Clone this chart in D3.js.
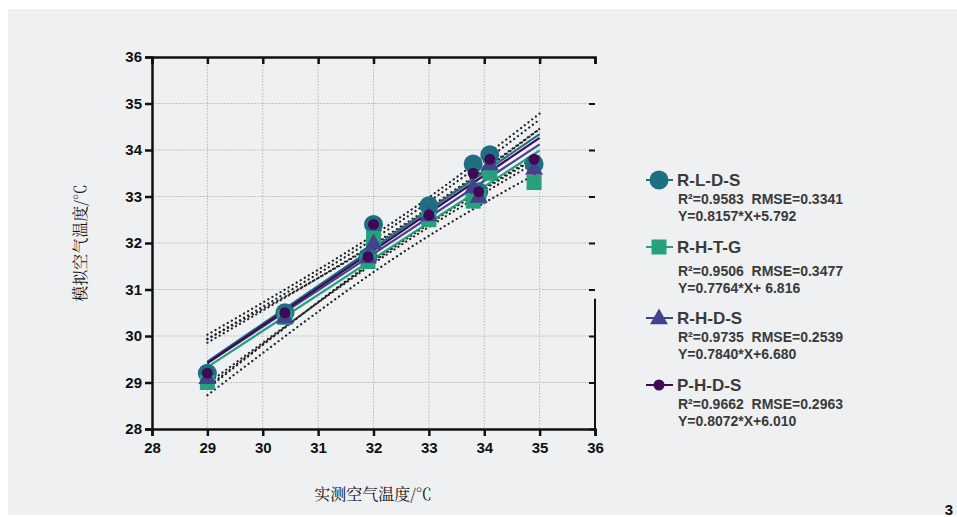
<!DOCTYPE html>
<html>
<head>
<meta charset="utf-8">
<title>模拟与实测空气温度</title>
<script src="https://cdn.jsdelivr.net/npm/d3@7"></script>
<style>
  body { margin: 0; background: #fff; }
  .tick-label { font-family: "Liberation Sans Narrow", "Arial Narrow", "Liberation Sans", sans-serif; font-weight: bold; font-size: 15px; fill: #111; }
  .axis-title { font-family: "Noto Serif CJK SC", "Noto Sans CJK SC", serif; font-size: 16px; fill: #111; }
  .leg-name { font-family: "Liberation Sans", Arial, sans-serif; font-size: 17px; font-weight: bold; fill: #3a3a3a; }
  .leg-stat { font-family: "Liberation Sans", Arial, sans-serif; font-size: 14px; font-weight: bold; fill: #3a3a3a; white-space: pre; }
</style>
</head>
<body>
<div id="chart"></div>
<script>
// measured air temperature (x) shared by all series
var measured = [29, 30.4, 31.9, 32.0, 33.0, 33.8, 33.9, 34.1, 34.9];

// simulated values per scheme
var rlds = [29.2, 30.5, 31.7, 32.4, 32.8, 33.7, 33.1, 33.9, 33.7];
var rhtg = [29.0, 30.4, 31.6, 32.1, 32.5, 32.9, 33.0, 33.5, 33.3];
var rhds = [29.1, 30.4, 31.7, 32.0, 32.6, 33.2, 33.0, 33.7, 33.6];
var phds = [29.2, 30.5, 31.7, 32.4, 32.6, 33.5, 33.1, 33.8, 33.8];

var names = ["R-L-D-S", "R-H-T-G", "R-H-D-S", "P-H-D-S"];
var slopes = [0.8157, 0.7764, 0.7840, 0.8072];
var intercepts = [5.792, 6.816, 6.680, 6.010];
var r2 = ["0.9583", "0.9506", "0.9735", "0.9662"];
var rmse = ["0.3341", "0.3477", "0.2539", "0.2963"];
var eqText = ["Y=0.8157*X+5.792", "Y=0.7764*X+ 6.816", "Y=0.7840*X+6.680", "Y=0.8072*X+6.010"];

var xTicks = [28, 29, 30, 31, 32, 33, 34, 35, 36];
var yTicks = [28, 29, 30, 31, 32, 33, 34, 35, 36];

var colors = ["#1f6f82", "#27a07e", "#41438c", "#3e0a55"];
var shapes = ["bigcircle", "square", "triangle", "dot"];

var width = 957, height = 517;
var svg = d3.select("#chart").append("svg")
    .attr("width", width)
    .attr("height", height);

svg.append("rect").attr("x", 8).attr("y", 9)
    .attr("width", width - 8).attr("height", 506)
    .attr("fill", "#eff0f2");

var x = d3.scaleLinear().domain([28, 36]).range([152, 595]);
var y = d3.scaleLinear().domain([28, 36]).range([429, 57]);

// grid
svg.append("g").selectAll("line").data(xTicks.slice(1, -1)).join("line")
    .attr("x1", d => x(d)).attr("x2", d => x(d))
    .attr("y1", y(36)).attr("y2", y(28))
    .attr("stroke", "#b8b8b8").attr("stroke-width", 1).attr("stroke-dasharray", "1.5 1.5");
svg.append("g").selectAll("line").data(yTicks.slice(1, -1)).join("line")
    .attr("x1", x(28)).attr("x2", x(36))
    .attr("y1", d => y(d)).attr("y2", d => y(d))
    .attr("stroke", "#c4c4c4").attr("stroke-width", 1.2).attr("stroke-dasharray", "2 1");

// axes
var xAxis = svg.append("g").attr("transform", "translate(0," + y(28) + ")")
    .call(d3.axisBottom(x).tickValues(xTicks).tickSize(7).tickPadding(6).tickFormat(d3.format("d")));
var yAxis = svg.append("g").attr("transform", "translate(" + x(28) + ",0)")
    .call(d3.axisLeft(y).tickValues(yTicks).tickSize(7).tickPadding(3).tickFormat(d3.format("d")));
var topAxis = svg.append("g").attr("transform", "translate(0," + y(36) + ")")
    .call(d3.axisBottom(x).tickValues(xTicks).tickSize(7).tickFormat(""));
var rightAxis = svg.append("g").attr("transform", "translate(" + x(36) + ",0)")
    .call(d3.axisLeft(y).tickValues(yTicks.slice(0, -1)).tickSize(6).tickFormat(""));
[xAxis, yAxis, topAxis].forEach(function (g) {
    g.select(".domain").attr("stroke", "#111").attr("stroke-width", 2.5);
    g.selectAll(".tick line").attr("stroke", "#111").attr("stroke-width", 2.5);
    g.selectAll("text").attr("class", "tick-label").attr("fill", null);
});
rightAxis.select(".domain").remove();
rightAxis.selectAll(".tick line").attr("stroke", "#111").attr("stroke-width", 2);
svg.append("line").attr("x1", x(36)).attr("x2", x(36))
    .attr("y1", y(30.8)).attr("y2", y(28))
    .attr("stroke", "#111").attr("stroke-width", 2);

// confidence bands (95%, n = 9) derived from the regression stats
var n = measured.length;
var xm = d3.mean(measured);
var sxx = d3.sum(measured, v => (v - xm) * (v - xm));
var tval = 2.365;
var xs = d3.range(29, 35.001, 0.1);
var line = d3.line().x(d => x(d[0])).y(d => y(d[1]));

var bands = svg.append("g");
names.forEach(function (nm, i) {
    [1, -1].forEach(function (sgn) {
        var pts = xs.map(function (v) {
            var fit = slopes[i] * v + intercepts[i];
            var hw = tval * (+rmse[i]) * Math.sqrt(1 / n + (v - xm) * (v - xm) / sxx);
            return [v, fit + sgn * hw];
        });
        bands.append("path").attr("d", line(pts))
            .attr("fill", "none").attr("stroke", "#222").attr("stroke-width", 2.2)
            .attr("stroke-linecap", "round").attr("stroke-dasharray", "0.1 4.6");
    });
});

// regression lines
names.forEach(function (nm, i) {
    var pts = [29, 35].map(v => [v, slopes[i] * v + intercepts[i]]);
    svg.append("path").attr("d", line(pts))
        .attr("fill", "none").attr("stroke", colors[i]).attr("stroke-width", 2.2);
});

// markers
function drawMarker(g, shape, color, cx, cy) {
    if (shape === "bigcircle") {
        g.append("circle").attr("cx", cx).attr("cy", cy).attr("r", 9.5).attr("fill", color);
    } else if (shape === "square") {
        g.append("rect").attr("x", cx - 7.5).attr("y", cy - 7.5).attr("width", 15).attr("height", 15).attr("fill", color);
    } else if (shape === "triangle") {
        g.append("path").attr("d", d3.symbol().type(d3.symbolTriangle).size(140)())
            .attr("transform", "translate(" + cx + "," + (cy + 1) + ")").attr("fill", color);
    } else {
        g.append("circle").attr("cx", cx).attr("cy", cy).attr("r", 5.5).attr("fill", color);
    }
}

var series = [rlds, rhtg, rhds, phds];
var marks = svg.append("g");
series.forEach(function (vals, i) {
    vals.forEach(function (v, j) {
        drawMarker(marks, shapes[i], colors[i], x(measured[j]), y(v));
    });
});

// legend
var legY = [180, 247, 318, 385];
var leg = svg.append("g");
names.forEach(function (nm, i) {
    var ly = legY[i];
    leg.append("line").attr("x1", 646).attr("x2", 673).attr("y1", ly).attr("y2", ly)
        .attr("stroke", colors[i]).attr("stroke-width", 2);
    drawMarker(leg, shapes[i], colors[i], 659, ly);
    leg.append("text").attr("class", "leg-name").attr("x", 677).attr("y", ly + 6).text(nm);
    var sy = i === 1 ? ly + 29 : ly + 24;
    leg.append("text").attr("class", "leg-stat").attr("x", 678).attr("y", sy)
        .text("R²=" + r2[i] + "  RMSE=" + rmse[i]);
    leg.append("text").attr("class", "leg-stat").attr("x", 678).attr("y", sy + 17)
        .text(eqText[i]);
});

// axis titles
svg.append("text").attr("class", "axis-title").attr("x", 373).attr("y", 500)
    .attr("text-anchor", "middle").text("实测空气温度/℃");
svg.append("text").attr("class", "axis-title")
    .attr("transform", "translate(86,243) rotate(-90)")
    .attr("text-anchor", "middle").text("模拟空气温度/℃");

// page number
svg.append("text").attr("x", 953).attr("y", 515).attr("text-anchor", "end")
    .attr("font-family", "Liberation Sans, sans-serif").attr("font-weight", "bold")
    .attr("font-size", 15).attr("fill", "#111").text("3");
</script>
</body>
</html>
